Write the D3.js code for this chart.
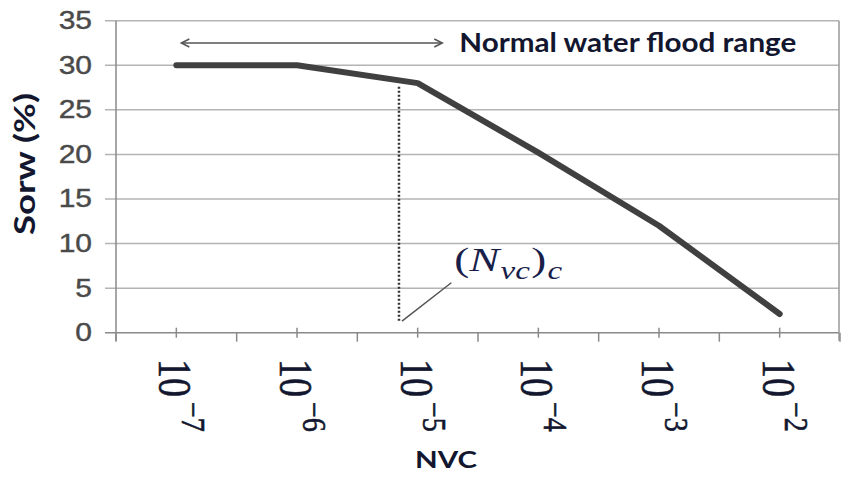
<!DOCTYPE html>
<html>
<head>
<meta charset="utf-8">
<script src="https://cdn.jsdelivr.net/npm/d3@7"></script>
<style>
  html, body { margin: 0; padding: 0; background: #fff; }
  svg { display: block; }
</style>
</head>
<body>
<svg id="chart" width="842" height="481"></svg>
<script>
// ---- data ----
const nvc = [1e-7, 1e-6, 1e-5, 1e-4, 1e-3, 1e-2];
const sorw = [30, 30, 28, 20.2, 12, 2.1];
const xTickExponents = [-7, -6, -5, -4, -3, -2];
const yTicks = [0, 5, 10, 15, 20, 25, 30, 35];
const criticalNvc = 7e-6;
const criticalSorw = [27.6, 1.3];
const leaderEnd = [1.9e-5, 5.6];
const floodRangeNvc = [1.1e-7, 1.6e-5];
const floodRangeSorw = 32.5;
const floodLabel = "Normal water flood range";
const yLabel = "Sorw (%)";
const xLabel = "NVC";

// ---- scales ----
const svg = d3.select("#chart");
const x = d3.scaleLog().domain([Math.pow(10, -7.5), Math.pow(10, -1.5)]).range([116, 840]);
const y = d3.scaleLinear().domain([0, 35]).range([332.7, 20.7]);
const darkText = "#12162e";

// gridlines + y ticks
svg.append("g").selectAll("line").data(yTicks).join("line")
  .attr("x1", 105).attr("x2", x.range()[1] - 1)
  .attr("y1", d => y(d)).attr("y2", d => y(d))
  .attr("stroke", d => d === 0 ? "#8a8a8a" : "#b4b4b4")
  .attr("stroke-width", 1.5);

// y tick labels
svg.append("g").selectAll("g").data(yTicks).join("g")
  .attr("transform", d => `translate(92,${y(d) + 8.5}) scale(1.2,1)`)
  .append("text")
  .attr("text-anchor", "end")
  .attr("font-family", "Liberation Sans, Arial, sans-serif")
  .attr("font-size", 25)
  .attr("fill", "#4a4a4a")
  .attr("stroke", "#4a4a4a").attr("stroke-width", 0.4)
  .text(d => d);

// y axis line
svg.append("line")
  .attr("x1", x.range()[0]).attr("x2", x.range()[0])
  .attr("y1", y(35)).attr("y2", y(0) + 8)
  .attr("stroke", "#8a8a8a").attr("stroke-width", 1.5);
// right border
svg.append("line")
  .attr("x1", x.range()[1] - 1).attr("x2", x.range()[1] - 1)
  .attr("y1", y(35)).attr("y2", y(0) + 8)
  .attr("stroke", "#999").attr("stroke-width", 1.5);

// x ticks: boundaries (outside) and category (cross)
const boundaries = d3.range(-7.5, -1.4, 1).map(e => Math.pow(10, e));
svg.append("g").selectAll("line").data(boundaries).join("line")
  .attr("x1", d => x(d)).attr("x2", d => x(d))
  .attr("y1", y(0)).attr("y2", y(0) + 9)
  .attr("stroke", "#8a8a8a").attr("stroke-width", 1.5);
svg.append("g").selectAll("line").data(nvc).join("line")
  .attr("x1", d => x(d)).attr("x2", d => x(d))
  .attr("y1", y(0) - 5).attr("y2", y(0) + 5)
  .attr("stroke", "#8a8a8a").attr("stroke-width", 1.5);

// x tick labels (rotated)
const xl = svg.append("g").selectAll("g").data(xTickExponents).join("g")
  .attr("transform", d => `translate(${x(Math.pow(10, d)) - 17},359) scale(1.2,1) rotate(90)`)
  .append("text")
  .attr("font-family", "Liberation Serif, Cambria, serif")
  .attr("font-size", 38)
  .attr("fill", darkText)
  .attr("stroke", darkText).attr("stroke-width", 0.5);
xl.append("tspan").text("10");
xl.append("tspan").attr("dx", 5).attr("dy", -19).attr("font-size", 28).text(d => "\u2212" + Math.abs(d));

// main line
svg.append("path")
  .datum(nvc.map((v, i) => [v, sorw[i]]))
  .attr("d", d3.line().x(d => x(d[0])).y(d => y(d[1])))
  .attr("fill", "none")
  .attr("stroke", "#404040")
  .attr("stroke-width", 6)
  .attr("stroke-linejoin", "round")
  .attr("stroke-linecap", "round");

// critical dotted line
svg.append("line")
  .attr("x1", x(criticalNvc)).attr("x2", x(criticalNvc))
  .attr("y1", y(criticalSorw[0])).attr("y2", y(criticalSorw[1]))
  .attr("stroke", "#333").attr("stroke-width", 2.5)
  .attr("stroke-dasharray", "2,2");
// leader
svg.append("line")
  .attr("x1", x(criticalNvc) + 3).attr("x2", x(leaderEnd[0]))
  .attr("y1", y(criticalSorw[1])).attr("y2", y(leaderEnd[1]))
  .attr("stroke", "#555").attr("stroke-width", 1.5);

// critical label (N_vc)_c
const cg = svg.append("g");
const ct = cg.append("text")
  .attr("font-family", "Liberation Serif, Cambria, serif")
  .attr("font-size", 34)
  .attr("fill", "#18204a");
ct.append("tspan").text("(");
ct.append("tspan").attr("font-style", "italic").text("N");
ct.append("tspan").attr("font-style", "italic").attr("font-size", 25).attr("dx", 1).attr("dy", 8).text("vc");
ct.append("tspan").attr("dx", 1).attr("dy", -8).text(")");
ct.append("tspan").attr("font-style", "italic").attr("font-size", 25).attr("dx", 1).attr("dy", 8).text("c");
const cw = ct.node().getBBox().width;
cg.attr("transform", `translate(${x(leaderEnd[0]) + 3},${y(leaderEnd[1]) - 12}) scale(${108 / cw},1)`);

// flood range arrow
const ax1 = x(floodRangeNvc[0]), ax2 = x(floodRangeNvc[1]), ay = y(floodRangeSorw);
const ag = svg.append("g").attr("stroke", "#555").attr("stroke-width", 1.5).attr("fill", "none");
ag.append("line").attr("x1", ax1).attr("x2", ax2).attr("y1", ay).attr("y2", ay);
ag.append("path").attr("d", `M${ax1 + 8},${ay - 4}L${ax1},${ay}L${ax1 + 8},${ay + 4}`);
ag.append("path").attr("d", `M${ax2 - 8},${ay - 4}L${ax2},${ay}L${ax2 - 8},${ay + 4}`);

svg.append("text")
  .attr("x", ax2 + 17).attr("y", ay + 9.5)
  .attr("font-family", "Lato, Open Sans, sans-serif")
  .attr("font-weight", "bold")
  .attr("font-size", 26)
  .attr("textLength", 337)
  .attr("lengthAdjust", "spacingAndGlyphs")
  .attr("fill", darkText)
  .text(floodLabel);

// axis titles
svg.append("text")
  .attr("transform", "translate(35,164) rotate(-90)")
  .attr("text-anchor", "middle")
  .attr("font-family", "Lato, Open Sans, sans-serif")
  .attr("font-weight", "bold")
  .attr("font-size", 28)
  .attr("textLength", 142)
  .attr("lengthAdjust", "spacingAndGlyphs")
  .attr("fill", darkText)
  .text(yLabel);

svg.append("text")
  .attr("x", 446).attr("y", 468)
  .attr("text-anchor", "middle")
  .attr("font-family", "Lato, Open Sans, sans-serif")
  .attr("font-weight", "bold")
  .attr("font-size", 23)
  .attr("textLength", 62)
  .attr("lengthAdjust", "spacingAndGlyphs")
  .attr("fill", darkText)
  .text(xLabel);
</script>
</body>
</html>
